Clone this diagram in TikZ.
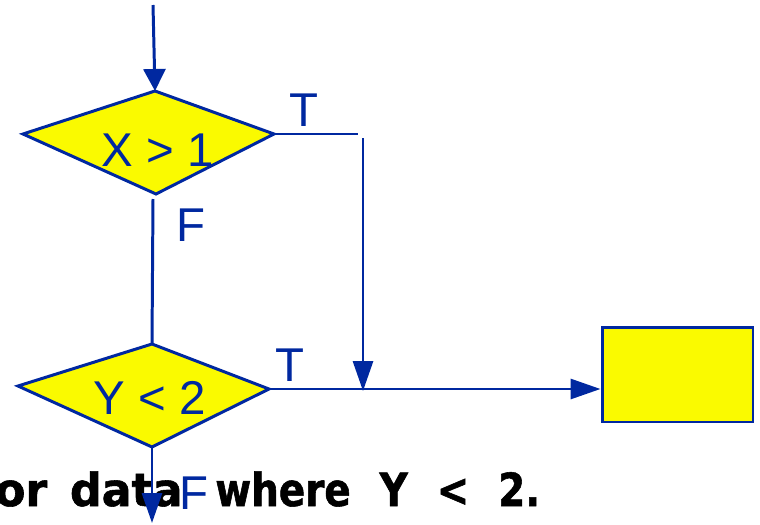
\documentclass[tikz,border=0pt]{standalone}
\usepackage{graphicx}
\usepackage{fontspec}
\setmainfont{Liberation Sans}
\newfontfamily\notefont[FakeStretch=0.85, BoldFeatures={FakeBold=1.2}]{DejaVu Sans}
\usetikzlibrary{arrows.meta}
\definecolor{flowblue}{RGB}{0,40,160}
\definecolor{flowyellow}{RGB}{250,250,0}

\begin{document}
\begin{tikzpicture}[x=0.02cm, y=-0.02cm,
  line/.style={flowblue, line width=1.7pt},
  arr/.style={line, -{Triangle[length=0.6cm, width=0.4cm]}},
  kite/.style={line, fill=flowyellow, line join=miter},
  lbl/.style={flowblue, font=\fontsize{27}{30}\selectfont, inner sep=0pt},
  note/.style={font=\notefont\bfseries\fontsize{26}{30}\selectfont, inner sep=0pt, anchor=base west}]

\path[use as bounding box, clip] (0,0) rectangle (760,524);

% caption text behind the chart
\node[note, anchor=base east] (txta) at (183,506) {\scalebox{1.14}[1]{\spaceskip=0.4cm or data}};
\node[note] (txtb) at (215,506) {\spaceskip=0.58cm where Y < 2.};

% first test
\coordinate (xleft) at (23,134);
\coordinate (xtop) at (155,91);
\coordinate (xright) at (274,134);
\coordinate (xbot) at (156,194);
\filldraw[kite] (xleft) -- (xtop) -- (xright) -- (xbot) -- cycle;
\node[lbl] (xtest) at (158,150) {X > 1};

% second test
\coordinate (yleft) at (18,386);
\coordinate (ytop) at (152,344);
\coordinate (yright) at (269,389);
\coordinate (ybot) at (152,447);
\filldraw[kite] (yleft) -- (ytop) -- (yright) -- (ybot) -- cycle;
\node[lbl] (ytest) at (150,398) {Y < 2};

\node[draw=flowblue, line width=1.7pt, fill=flowyellow, inner sep=0pt,
  minimum width=3.02cm, minimum height=1.9cm] (act) at (677.5,374.5) {};

\coordinate (start) at (153,5);
\coordinate (tcorner) at (358,134);
\coordinate (tdrop) at (363,138);
\coordinate (tjoin) at (363,391);
\coordinate (xfalse) at (153,199);
\coordinate (yexit) at (152,523);

\draw[line, -{Triangle[length=0.44cm, width=0.44cm]}] (start) -- (xtop);
\draw[line] (xright) -- (tcorner);
\draw[arr] (tdrop) -- (tjoin);
\draw[line] (xfalse) -- (ytop);
\draw[arr] (yright) -- (yright -| act.west);
\draw[arr] (ybot) -- (yexit);

\node[lbl] (xt) at (304,110) {T};
\node[lbl] (xf) at (191,225) {F};
\node[lbl] (yt) at (290,365) {T};
\node[lbl] (yf) at (194,493) {F};

\end{tikzpicture}
\end{document}
